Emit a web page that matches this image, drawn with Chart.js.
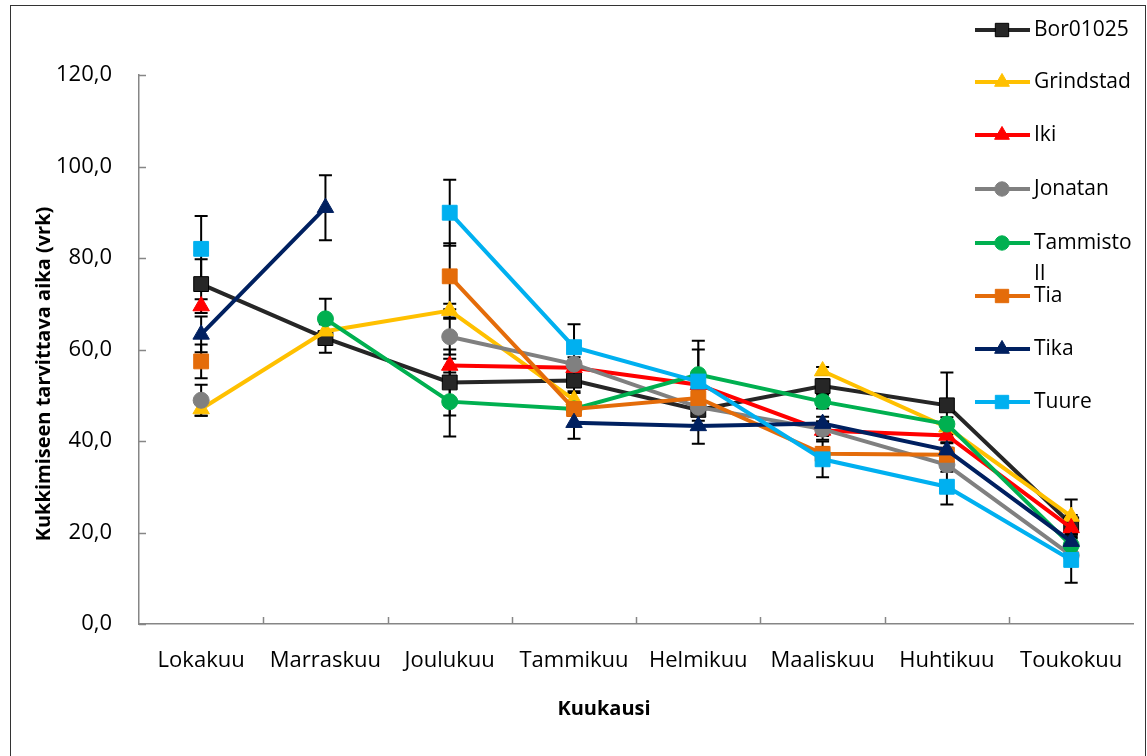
<!DOCTYPE html>
<html><head><meta charset="utf-8">
<script src="https://cdn.jsdelivr.net/npm/chart.js@4.4.1/dist/chart.umd.min.js"></script>
<style>
html,body{margin:0;padding:0;background:#fff;}
#wrap{position:relative;width:1147px;height:756px;overflow:hidden;}
#frame{position:absolute;left:10px;top:5px;width:1136px;height:800px;border:1.5px solid #333;box-sizing:border-box;pointer-events:none;}
canvas{position:absolute;left:0;top:0;}
</style></head><body>
<div id="wrap"><canvas id="c" width="1147" height="756"></canvas><div id="frame"></div></div>
<script>
const categories = ['Lokakuu','Marraskuu','Joulukuu','Tammikuu','Helmikuu','Maaliskuu','Huhtikuu','Toukokuu'];
const yTickLabels = ['0,0','20,0','40,0','60,0','80,0','100,0','120,0'];
const seriesNames = ['Bor01025','Grindstad','Iki','Jonatan','Tammisto II','Tia','Tika','Tuure'];

const bor01025   = [74.3, 62.5, 52.8, 53.2, 46.8, 52.0, 47.8, 21.8];
const grindstad  = [47.0, 64.0, 68.5, 49.0, null, 55.3, 43.0, 23.5];
const iki        = [69.5, null, 56.5, 56.0, 52.3, 42.3, 41.2, 21.0];
const jonatan    = [48.9, null, 62.8, 56.8, 47.4, 42.6, 34.8, 15.0];
const tammistoII = [null, 66.7, 48.6, 47.0, 54.5, 48.6, 43.7, 17.2];
const tia        = [57.4, null, 76.0, 47.0, 49.4, 37.2, 37.0, null];
const tika       = [63.3, 91.0, null, 44.0, 43.3, 43.8, 38.0, 18.0];
const tuure      = [82.0, null, 89.9, 60.5, 53.0, 36.0, 30.0, 14.0];

const borErr      = [5.4, 3.2, 7.2, 2.3, 2.4, 1.5, 7.2, 2.0];
const grindstadErr= [1.5, 1.5, 1.5, 1.5, null, 0.9, 1.5, 3.7];
const ikiErr      = [1.5, null, 1.5, 1.5, 1.5, 2.0, 1.5, 1.5];
const jonatanErr  = [3.4, null, 3.9, 1.5, 1.5, 1.5, 1.5, 1.5];
const tammistoErr = [null, 4.4, 7.6, 1.5, 7.4, 1.5, 1.5, 1.5];
const tiaErr      = [3.7, null, 7.2, 1.5, 1.5, 1.5, 1.5, null];
const tikaErr     = [3.9, 7.1, null, 3.5, 3.9, 1.5, 1.5, 1.5];
const tuureErr    = [7.2, null, 7.2, 5.0, 7.0, 3.9, 3.9, 5.0];

const seriesData = [bor01025, grindstad, iki, jonatan, tammistoII, tia, tika, tuure];
const seriesErr  = [borErr, grindstadErr, ikiErr, jonatanErr, tammistoErr, tiaErr, tikaErr, tuureErr];
const colors = ['#262626','#FFC000','#FF0000','#808080','#00B050','#E46C0A','#002060','#00B0F0'];
const markers = ['rect','triangle','triangle','circle','circle','rect','triangle','rect'];
const radii = {rect:10.5, triangle:9.5, circle:8};

const datasets = seriesNames.map((name, i) => ({
  label: name,
  data: seriesData[i],
  errors: seriesErr[i],
  borderColor: colors[i],
  backgroundColor: colors[i],
  pointBackgroundColor: colors[i],
  pointBorderColor: i === 0 ? '#000' : colors[i],
  pointBorderWidth: 1,
  pointStyle: markers[i],
  pointRadius: radii[markers[i]],
  pointHoverRadius: radii[markers[i]],
  borderWidth: 4,
  tension: 0,
  spanGaps: false,
  order: seriesNames.length - i
}));

function drawMarker(ctx, style, x, y, r, fill, stroke) {
  ctx.save();
  ctx.fillStyle = fill; ctx.strokeStyle = stroke; ctx.lineWidth = 1;
  ctx.beginPath();
  if (style === 'rect') {
    const s = Math.SQRT1_2 * r;
    ctx.rect(x - s, y - s, 2 * s, 2 * s);
  } else if (style === 'circle') {
    ctx.arc(x, y, r, 0, Math.PI * 2);
  } else {
    ctx.moveTo(x, y - r);
    ctx.lineTo(x + Math.sin(2*Math.PI/3) * r, y - Math.cos(2*Math.PI/3) * r);
    ctx.lineTo(x + Math.sin(4*Math.PI/3) * r, y - Math.cos(4*Math.PI/3) * r);
    ctx.closePath();
  }
  ctx.fill(); ctx.stroke();
  ctx.restore();
}

const customPlugin = {
  id: 'custom',
  beforeDatasetsDraw(chart) {
    const ctx = chart.ctx;
    const ys = chart.scales.y;
    ctx.save();
    ctx.strokeStyle = '#000';
    ctx.lineWidth = 2;
    chart.data.datasets.forEach((ds, di) => {
      const meta = chart.getDatasetMeta(di);
      ds.data.forEach((v, i) => {
        const e = ds.errors[i];
        if (v === null || e === null) return;
        const x = meta.data[i].x;
        const yt = ys.getPixelForValue(v + e);
        const yb = ys.getPixelForValue(v - e);
        ctx.beginPath();
        ctx.moveTo(x, yt); ctx.lineTo(x, yb);
        ctx.moveTo(x - 6.5, yt); ctx.lineTo(x + 6.5, yt);
        ctx.moveTo(x - 6.5, yb); ctx.lineTo(x + 6.5, yb);
        ctx.stroke();
      });
    });
    ctx.restore();
  },
  afterDraw(chart) {
    const ctx = chart.ctx;
    const ca = chart.chartArea;
    const xs = chart.scales.x, ys = chart.scales.y;
    ctx.save();
    // inward tick marks
    ctx.strokeStyle = '#868686';
    ctx.lineWidth = 1.5;
    ctx.beginPath();
    ys.ticks.forEach(t => {
      const y = Math.round(ys.getPixelForValue(t.value)) + 0.5;
      ctx.moveTo(ca.left, y); ctx.lineTo(ca.left + 7, y);
    });
    const w = (ca.right - ca.left) / categories.length;
    for (let k = 1; k < categories.length; k++) {
      const x = Math.round(ca.left + k * w) + 0.5;
      ctx.moveTo(x, ca.bottom); ctx.lineTo(x, ca.bottom - 7);
    }
    ctx.stroke();
    // axis titles
    ctx.fillStyle = '#000';
    ctx.font = 'bold 20px "Open Sans"';
    ctx.textAlign = 'center';
    ctx.textBaseline = 'middle';
    ctx.fillText('Kuukausi', 604, 709);
    ctx.save();
    ctx.translate(44, 374);
    ctx.rotate(-Math.PI / 2);
    ctx.fillText('Kukkimiseen tarvittava aika (vrk)', 0, 0);
    ctx.restore();
    // legend
    const legY = [30, 82, 135, 189, 243, 296, 349, 402];
    ctx.font = '21px "Open Sans"';
    ctx.textAlign = 'left';
    seriesNames.forEach((name, i) => {
      const y = legY[i];
      ctx.strokeStyle = colors[i];
      ctx.lineWidth = 4;
      ctx.beginPath();
      ctx.moveTo(975, y); ctx.lineTo(1030, y);
      ctx.stroke();
      drawMarker(ctx, markers[i], 1002, y, radii[markers[i]] * 0.9, colors[i], i === 0 ? '#000' : colors[i]);
      ctx.fillStyle = '#000';
      if (name === 'Tammisto II') {
        ctx.fillText('Tammisto', 1034, y);
        ctx.fillText('II', 1034, y + 31);
      } else {
        ctx.fillText(name, 1034, y);
      }
    });
    ctx.restore();
  }
};

new Chart(document.getElementById('c'), {
  type: 'line',
  data: { labels: categories, datasets },
  plugins: [customPlugin],
  options: {
    responsive: false,
    animation: false,
    events: [],
    layout: { padding: { left: 0, right: 10, top: 75, bottom: 0 } },
    plugins: { legend: { display: false }, tooltip: { enabled: false }, title: { display: false } },
    scales: {
      x: {
        type: 'category',
        offset: true,
        grid: { display: false, drawTicks: false, offset: true },
        border: { display: true, color: '#868686', width: 1.5 },
        ticks: { color: '#000', font: { family: 'Open Sans', size: 22 }, padding: 24, maxRotation: 0, autoSkip: false },
        afterFit(s) { s.height = 132; }
      },
      y: {
        min: 0, max: 120,
        grid: { display: false, drawTicks: false },
        border: { display: true, color: '#868686', width: 1.5 },
        ticks: { stepSize: 20, color: '#000', font: { family: 'Open Sans', size: 22 }, padding: 27,
          callback: (v, idx) => yTickLabels[idx] },
        afterFit(s) { s.width = 139; }
      }
    }
  }
});
</script>
</body></html>
